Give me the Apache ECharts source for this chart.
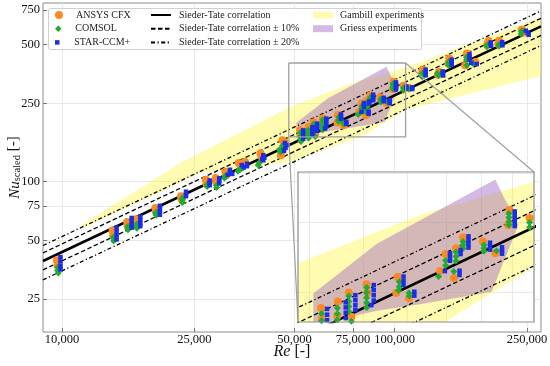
<!DOCTYPE html>
<html><head><meta charset="utf-8">
<script src="https://cdn.jsdelivr.net/npm/echarts@6/dist/echarts.min.js"></script>
<style>html,body{margin:0;padding:0;background:#fff}#c{width:550px;height:366px}</style>
</head><body><div id="c"></div>
<script>
// ---------- axes / ticks ----------
const xTicks = [10000, 25000, 50000, 75000, 100000, 250000];
const xTickLabels = ['10,000', '25,000', '50,000', '75,000', '100,000', '250,000'];
const yTicks = [25, 50, 75, 100, 250, 500, 750];
const yTickLabels = ['25', '50', '75', '100', '250', '500', '750'];
const xRange = [8770, 275500];
const yRange = [17.0, 814];
const insetXRange = [48060, 107900];
const insetYRange = [168.7, 402];
const insetXGrid = [50000, 60000, 70000, 80000, 90000, 100000];
const insetYGrid = [200, 300, 400];

// ---------- Sieder-Tate correlation lines (end points) ----------
const stRe = [8770, 275500];
const stNu = [39.2, 618];
const stPlus10 = [43.1, 680];
const stMinus10 = [35.3, 556];
const stPlus20 = [47.0, 742];
const stMinus20 = [31.4, 494];

// ---------- CFD results [Re, Nu] ----------
const ansysCFX = [
  [9650,39.5],[9700,37],[14200,56],[14250,53],[15700,62],[15750,59],[16700,64],[16750,61],
  [19100,73],[19150,70],[22800,84],[22900,81],[27100,102],[27200,97],[29000,104],[29050,99],
  [31000,112],[31100,107],[34000,124],[35500,126],[34500,118],[39500,139],[39800,134],
  [46000,162],[45500,136],[46800,158],[52000,183],[52200,172],[55100,190],[55000,175],
  [57200,200],[57700,174],[60800,210],[61000,200],[67600,219],[67300,199.5],[70300,193.5],
  [78200,226.5],[79700,250],[82600,258.5],[82000,217.5],[84600,275],[90600,269],[94500,251],
  [99200,322.5],[98800,296],[106300,308],[110500,300],[121500,372],[121000,360],
  [136000,362],[135000,350],[146000,424],[145000,400],[165000,450],[163000,392],[175000,407],
  [191500,520],[190000,500],[206000,522],[205000,502],[241000,595],[245000,575]
];
const comsol = [
  [9700,35],[9750,34],[9720,36.5],[14300,52],[14300,49.5],[14300,51],[15800,59],[15800,56.5],[15800,58],
  [16800,60.5],[16800,57.5],[16800,59],[19200,69.5],[19200,67],[19200,68.5],[23000,80.5],[23000,78],[23000,82],
  [27300,94],[27300,96],[29200,93],[29200,95.5],[30800,104],[31000,106.5],[33800,112.5],[34300,115],[35000,117],
  [38900,121],[39200,124.5],[45000,145],[45400,141],[46000,152],
  [52100,177],[52100,170],[52100,163.5],[52300,159.5],[55000,183],[55000,177],[55000,171],[55100,166],
  [57200,196],[57200,190],[57200,184.5],[57200,179],[57700,169.5],
  [60800,206],[60800,200],[60800,194],[60800,188.5],[60800,183.5],
  [68000,213],[68000,207],[67800,202.5],[70300,199.5],[70400,196],
  [77800,219.5],[79700,241],[79700,234],[82600,253],[82600,246.5],[82600,240],[82000,226],
  [84600,269],[84600,263.5],[84600,258],[90900,263.5],[90900,258.5],[90900,254],[94900,255],
  [99000,316],[99000,309],[99000,302],[99000,296],[106300,300],[106300,292],[110500,296],
  [120800,350],[121000,342],[121200,356],[134500,355],[135500,347],[145500,408],[145500,398],[145500,390],
  [164500,430],[164500,417],[165000,392],[172000,400],[190000,497],[189500,487],[205500,500],[206000,490],
  [240000,565],[241000,585]
];
const starCCM = [
  [9900,41],[9900,39],[9900,37],[9900,35.5],[14600,58],[14600,55.5],[14600,53],[14600,50.5],
  [16200,65],[16200,62.5],[16200,60],[16200,58],[17200,66],[17200,63.5],[17200,61],[17200,59],
  [19700,75],[19700,72.5],[19700,70],[19700,67.5],[23600,88.5],[23600,86],[23600,84],
  [27800,101],[27800,98],[27800,95.5],[29700,103.5],[29700,101],[29700,98],
  [32000,114.5],[32000,111],[32500,109],[31500,108],[34700,121],[35200,118],[36000,123],[36000,119.5],
  [40300,136],[40600,132],[40300,128],[40000,130],[46800,157],[47500,153],[47000,148],[46500,143],
  [53100,182],[53100,176],[53100,170.5],[53100,165],[56600,189],[56600,183.5],[56600,178],[56600,172.5],
  [58500,197],[58500,191.5],[58500,186],[58500,181],[62300,209],[62300,203],[62300,197],[62300,191],[61800,186],
  [69000,219.5],[69000,214],[69000,209],[71600,201],[71600,196.5],
  [80900,251],[80900,245.5],[80900,240.5],[79500,226.5],[83900,256],[83900,250],[83600,227],[83600,221.5],
  [86200,277],[86200,271],[86200,265],[86200,259.5],[92800,267],[92800,261.5],[92800,256.5],
  [96700,260],[96700,255],[96700,250.5],[101000,320],[101000,313.5],[101000,307],[101000,300.5],[101000,294],
  [108500,305],[108500,298],[113000,302],[113000,296],[124000,372],[124000,364],[124000,356],[124000,348],
  [139500,364],[139500,356],[140000,347],[148500,418],[148500,410],[148500,401],[148500,393],
  [168000,445],[168000,432],[168000,420],[170000,403],[176500,397],[194500,512],[194500,502],[195000,492],
  [210500,514],[210500,504],[211000,495],[248000,588],[251000,575],[253000,560]
];

// ---------- experimental envelopes (polygon vertices) ----------
const gambillRe = [11460, 22600, 48100, 72960, 107900, 275500, 275500, 107900, 79500, 48000, 26000, 11460];
const gambillNu = [59.8, 123.6, 237.5, 313.5, 380, 690, 345, 232, 168.7, 125, 110, 57];
const griessRe = [50650, 62900, 94500, 97200, 102300, 93300, 73000, 63000, 50650];
const griessNu = [199, 265, 385, 349, 296, 201, 187, 180, 166];

// ---------- styling ----------
const SERIF = "'Liberation Serif', 'Times New Roman', serif";
const C_ORANGE = '#fb8a22', C_GREEN = '#22aa33', C_BLUE = '#1a2ee8';
const C_GAMBILL = 'rgba(255,245,50,0.38)', C_GRIESS = 'rgba(150,90,190,0.42)';
const ICON_DIAMOND = 'path://M1,0L2,1L1,2L0,1Z';
const ICON_SQUARE = 'path://M0,0L1,0L1,1L0,1Z';

function labelFor(v, ticks, labels) {
  let best = 0, bd = Infinity;
  ticks.forEach((t, i) => { const d = Math.abs(Math.log(v / t)); if (d < bd) { bd = d; best = i; } });
  return bd < 0.01 ? labels[best] : '';
}

function polygonSeries(name, re, nu, color, gi, z) {
  return {
    type: 'custom', name, xAxisIndex: gi, yAxisIndex: gi, clip: true, silent: true, z,
    itemStyle: { color },
    data: [[re[0], nu[0]]],
    renderItem: (params, api) => {
      const pts = re.map((r, i) => api.coord([r, nu[i]]));
      const cs = params.coordSys;
      return {
        type: 'polygon', shape: { points: pts }, style: { fill: color },
        clipPath: { type: 'rect', shape: { x: cs.x, y: cs.y, width: cs.width, height: cs.height } }
      };
    }
  };
}

const lineDefs = [
  { name: 'Sieder-Tate correlation', nu: stNu, width: 2.6, type: 'solid' },
  { name: 'Sieder-Tate correlation \u00b1 10%', nu: stPlus10, width: 1.3, type: [4.5, 2.5] },
  { name: 'Sieder-Tate correlation \u00b1 10%', nu: stMinus10, width: 1.3, type: [4.5, 2.5] },
  { name: 'Sieder-Tate correlation \u00b1 20%', nu: stPlus20, width: 1.3, type: [4, 2.5, 1.2, 2.5] },
  { name: 'Sieder-Tate correlation \u00b1 20%', nu: stMinus20, width: 1.3, type: [4, 2.5, 1.2, 2.5] }
];
const scatterDefs = [
  { name: 'ANSYS CFX', data: ansysCFX, color: C_ORANGE, symbol: 'circle', size: 8 },
  { name: 'COMSOL', data: comsol, color: C_GREEN, symbol: 'diamond', size: 7 },
  { name: 'STAR-CCM+', data: starCCM, color: C_BLUE, symbol: 'rect', size: 4.5 }
];

const series = [];
[0, 1].forEach(gi => {
  const zb = gi === 0 ? 1 : 7;
  series.push(polygonSeries('Gambill experiments', gambillRe, gambillNu, C_GAMBILL, gi, zb));
  series.push(polygonSeries('Griess experiments', griessRe, griessNu, C_GRIESS, gi, zb));
  lineDefs.forEach(d => series.push({
    type: 'line', name: d.name, xAxisIndex: gi, yAxisIndex: gi, z: zb + 1, silent: true,
    symbol: 'none', showSymbol: false, clip: true,
    itemStyle: { color: '#000' },
    lineStyle: { color: '#000', width: d.width, type: d.type },
    data: stRe.map((r, i) => [r, d.nu[i]])
  }));
  scatterDefs.forEach((d, k) => series.push({
    type: 'scatter', name: d.name, xAxisIndex: gi, yAxisIndex: gi, z: zb + 2 + k * 0.1, silent: true,
    symbol: d.symbol, symbolSize: d.size, clip: true,
    itemStyle: { color: d.color, opacity: 1 },
    data: d.data
  }));
});
// zoom box on the main plot
const boxRe = [insetXRange[0], insetXRange[1], insetXRange[1], insetXRange[0], insetXRange[0]];
const boxNu = [insetYRange[1], insetYRange[1], insetYRange[0], insetYRange[0], insetYRange[1]];
series.push({
  type: 'line', name: 'zoom', xAxisIndex: 0, yAxisIndex: 0, z: 4, silent: true, symbol: 'none',
  lineStyle: { color: '#a0a0a0', width: 1.3 }, data: boxRe.map((r, i) => [r, boxNu[i]])
});

const tickFont = { fontFamily: SERIF, fontSize: 12.5, color: '#111' };
const legText = (pl) => ({ fontFamily: SERIF, fontSize: 10, color: '#222', padding: [0, 0, 0, pl] });
const markerLegend = (name, top, h, icon) => ({
  data: [icon ? { name, icon } : { name }], orient: 'vertical', left: 55, top, padding: 0,
  itemWidth: 14, itemHeight: h, selectedMode: false, symbolKeepAspect: true, textStyle: legText(5)
});
const option = {
  animation: false,
  backgroundColor: '#fff',
  grid: [
    { left: 43, top: 3, width: 498, height: 329, show: true, borderColor: '#8c8c8c', borderWidth: 1,
      backgroundColor: '#fff', containLabel: false, outerBoundsMode: 'none' },
    { left: 298, top: 172, width: 236, height: 150, show: false, containLabel: false, outerBoundsMode: 'none' }
  ],
  xAxis: [
    {
      type: 'log', logBase: 10, gridIndex: 0, min: xRange[0], max: xRange[1],
      name: '{i|Re} [-]', nameLocation: 'middle', nameGap: 12, nameMoveOverlap: false,
      nameTextStyle: { fontFamily: SERIF, fontSize: 16, color: '#111', rich: { i: { fontFamily: SERIF, fontSize: 16, fontStyle: 'italic', color: '#111' } } },
      axisLine: { show: false },
      axisTick: { show: true, inside: true, length: 4, customValues: xTicks, lineStyle: { color: '#777' } },
      axisLabel: { ...tickFont, margin: 1, hideOverlap: false, customValues: xTicks, formatter: v => labelFor(v, xTicks, xTickLabels) },
      splitLine: { show: true, lineStyle: { color: '#e3e3e3', width: 0.8 } }
    },
    {
      type: 'log', logBase: 10, gridIndex: 1, min: insetXRange[0], max: insetXRange[1], z: 6,
      axisLine: { show: false }, axisTick: { show: false, customValues: insetXGrid }, axisLabel: { show: false },
      splitLine: { show: true, lineStyle: { color: '#e3e3e3', width: 0.8 } }
    }
  ],
  yAxis: [
    {
      type: 'log', logBase: 10, gridIndex: 0, min: yRange[0], max: yRange[1],
      name: '{i|Nu}{s|scaled} [-]', nameLocation: 'middle', nameGap: 20, nameMoveOverlap: false,
      nameTextStyle: { fontFamily: SERIF, fontSize: 15, color: '#111', rich: {
        i: { fontFamily: SERIF, fontSize: 15, fontStyle: 'italic', color: '#111', lineHeight: 20, verticalAlign: 'bottom' },
        s: { fontFamily: SERIF, fontSize: 10.5, color: '#111', verticalAlign: 'bottom', lineHeight: 14 } } },
      axisLine: { show: false },
      axisTick: { show: true, inside: true, length: 4, customValues: yTicks, lineStyle: { color: '#777' } },
      axisLabel: { ...tickFont, margin: 3, customValues: yTicks, formatter: v => labelFor(v, yTicks, yTickLabels) },
      splitLine: { show: true, lineStyle: { color: '#e3e3e3', width: 0.8 } }
    },
    {
      type: 'log', logBase: 10, gridIndex: 1, min: insetYRange[0], max: insetYRange[1], z: 6,
      axisLine: { show: false }, axisTick: { show: false, customValues: insetYGrid }, axisLabel: { show: false },
      splitLine: { show: true, lineStyle: { color: '#e3e3e3', width: 0.8 } }
    }
  ],
  legend: [
    markerLegend('ANSYS CFX', 10, 8, null),
    markerLegend('COMSOL', 23.7, 6.5, ICON_DIAMOND),
    markerLegend('STAR-CCM+', 37.4, 4.5, ICON_SQUARE),
    { data: ['Sieder-Tate correlation', 'Sieder-Tate correlation \u00b1 10%', 'Sieder-Tate correlation \u00b1 20%'],
      orient: 'vertical', left: 150, top: 10, padding: 0, itemWidth: 20, itemHeight: 10, itemGap: 3.7, selectedMode: false,
      itemStyle: { color: 'rgba(0,0,0,0)', borderWidth: 0, opacity: 0 },
      textStyle: legText(3) },
    { data: [{ name: 'Gambill experiments', icon: 'rect' }, { name: 'Griess experiments', icon: 'rect' }],
      orient: 'vertical', left: 313, top: 10, padding: 0, itemWidth: 20, itemHeight: 7, itemGap: 3.7, selectedMode: false,
      textStyle: legText(2) }
  ],
  series
};

const chart = echarts.init(document.getElementById('c'));
chart.setOption(option);

// inset background, frame, connectors (positions derived from the axes)
const px = (gi, v) => chart.convertToPixel({ gridIndex: gi }, v);
const iTL = px(1, [insetXRange[0], insetYRange[1]]), iBR = px(1, [insetXRange[1], insetYRange[0]]);
const iBL = px(1, [insetXRange[0], insetYRange[0]]), iTR = px(1, [insetXRange[1], insetYRange[1]]);
const mBL = px(0, [insetXRange[0], insetYRange[0]]), mTR = px(0, [insetXRange[1], insetYRange[1]]);
chart.setOption({
  graphic: [
    { type: 'rect', z: 3, silent: true, shape: { x: 48.5, y: 8.5, width: 373, height: 41, r: 2 },
      style: { fill: 'rgba(255,255,255,0.9)', stroke: '#d0d0d0', lineWidth: 1 } },
    { type: 'line', z: 4, silent: true, shape: { x1: mBL[0], y1: mBL[1], x2: iBL[0], y2: iBL[1] }, style: { stroke: '#a0a0a0', lineWidth: 1.2 } },
    { type: 'line', z: 4, silent: true, shape: { x1: mTR[0], y1: mTR[1], x2: iTR[0], y2: iTR[1] }, style: { stroke: '#a0a0a0', lineWidth: 1.2 } },
    { type: 'rect', z: 5, silent: true, shape: { x: iTL[0], y: iTL[1], width: iBR[0] - iTL[0], height: iBR[1] - iTL[1] },
      style: { fill: '#fff', stroke: null } },
    { type: 'rect', z: 20, silent: true, shape: { x: iTL[0], y: iTL[1], width: iBR[0] - iTL[0], height: iBR[1] - iTL[1] },
      style: { fill: null, stroke: '#8c8c8c', lineWidth: 1.2 } }
  ]
});
</script></body></html>
